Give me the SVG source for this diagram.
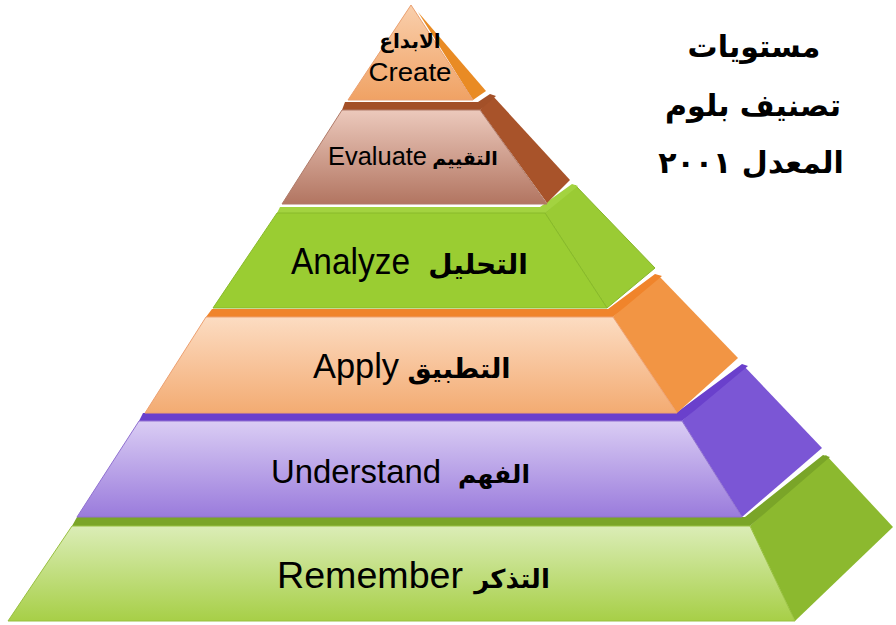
<svg xmlns="http://www.w3.org/2000/svg" width="896" height="625" viewBox="0 0 896 625">
<defs>
<linearGradient id="gCreate" x1="0" y1="0" x2="0" y2="1"><stop offset="0" stop-color="#f9cfac"/><stop offset="1" stop-color="#f0a264"/></linearGradient>
<linearGradient id="gEval" x1="0" y1="0" x2="0" y2="1"><stop offset="0" stop-color="#ecc9bc"/><stop offset="1" stop-color="#b27561"/></linearGradient>
<linearGradient id="gApply" x1="0" y1="0" x2="0" y2="1"><stop offset="0" stop-color="#fcdcc2"/><stop offset="1" stop-color="#f3ab72"/></linearGradient>
<linearGradient id="gUnd" x1="0" y1="0" x2="0" y2="1"><stop offset="0" stop-color="#dacdf4"/><stop offset="1" stop-color="#9a7bdc"/></linearGradient>
<linearGradient id="gRem" x1="0" y1="0" x2="0" y2="1"><stop offset="0" stop-color="#dbedb7"/><stop offset="1" stop-color="#a7cf47"/></linearGradient>
</defs>
<style>
.en{font-family:"Liberation Sans",Arial,sans-serif;fill:#000}
.ar{font-family:"DejaVu Sans","Liberation Sans",sans-serif;font-weight:bold;fill:#000}
.t{font-family:"DejaVu Sans","Liberation Sans",sans-serif;font-weight:bold;fill:#000;font-size:30px}
.edge{stroke-width:1;stroke-linejoin:round}
</style>
<rect width="896" height="625" fill="#fff"/>

<g id="remember">
<polygon points="750,526 826,455 893,527 795,621" fill="#8cb92f"/>
<polygon points="77,517 745,517 823,455 830,457 750,526 72,526" fill="#7aa528"/>
<polygon class="edge" points="72,526 750,526 795,621 8,621" fill="url(#gRem)" stroke="#98c040"/>
<text class="en" x="277" y="588" font-size="37" textLength="186" lengthAdjust="spacingAndGlyphs">Remember</text>
<text class="ar" x="512" y="588" font-size="26" text-anchor="middle">التذكر</text>
</g>

<g id="understand">
<polygon points="682,421 743,365 822,448 742,517" fill="#7b56d5"/>
<polygon points="143,413 676,413 742,364 748,366 682,421 139,421" fill="#6a40cc"/>
<polygon class="edge" points="139,421 682,421 742,517 77,517" fill="url(#gUnd)" stroke="#9070d0"/>
<text class="en" x="271" y="483" font-size="34" textLength="170" lengthAdjust="spacingAndGlyphs">Understand</text>
<text class="ar" x="494" y="483" font-size="25" text-anchor="middle">الفهم</text>
</g>

<g id="apply">
<polygon points="613,317 658,275 738,358 677,413" fill="#f29544"/>
<polygon points="212,309 608,309 655,274 662,276 613,317 206,317" fill="#f0842b"/>
<polygon class="edge" points="206,317 613,317 677,413 145,413" fill="url(#gApply)" stroke="#eda070"/>
<text class="en" x="313" y="378" font-size="35" textLength="86" lengthAdjust="spacingAndGlyphs">Apply</text>
<text class="ar" x="459" y="378" font-size="27" text-anchor="middle">التطبيق</text>
</g>

<g id="analyze">
<polygon points="545,213 575,185 655,268 607,308" fill="#9acb34" stroke="#86b52b"/>
<polygon points="280,207 540,207 572,184 578,186 545,213 277,213" fill="#a3d340"/>
<polygon class="edge" points="277,213 545,213 607,308 213,308" fill="#9acd32" stroke="#88ba2a"/>
<text class="en" x="291" y="274" font-size="36" textLength="119" lengthAdjust="spacingAndGlyphs">Analyze</text>
<text class="ar" x="478" y="274" font-size="28" text-anchor="middle">التحليل</text>
</g>

<g id="evaluate">
<polygon points="480,110 492,95 570,180 547,203" fill="#a8532a"/>
<polygon points="345,102 478,102 490,94 496,96 480,110 342,110" fill="#a35028"/>
<polygon class="edge" points="342,110 480,110 547,204 282,204" fill="url(#gEval)" stroke="#b07a68"/>
<text class="en" x="328" y="165" font-size="25" textLength="99" lengthAdjust="spacingAndGlyphs">Evaluate</text>
<text class="ar" x="465" y="165" font-size="19" text-anchor="middle">التقييم</text>
</g>

<g id="create">
<polygon points="418,12 486,91 473,100" fill="#e98b24"/>
<polygon class="edge" points="411,5 473,100 348,100" fill="url(#gCreate)" stroke="#eaa070"/>
<text class="ar" x="410" y="48" font-size="20" text-anchor="middle">الابداع</text>
<text class="en" x="410" y="81" font-size="26" text-anchor="middle" textLength="83" lengthAdjust="spacingAndGlyphs">Create</text>
</g>

<g id="title">
<text class="t" x="754" y="57" text-anchor="middle">مستويات</text>
<text class="t" x="753" y="116" text-anchor="middle">تصنيف بلوم</text>
<text class="t" x="751" y="173" text-anchor="middle">المعدل <tspan letter-spacing="11">٢٠٠١</tspan></text>
</g>
</svg>
